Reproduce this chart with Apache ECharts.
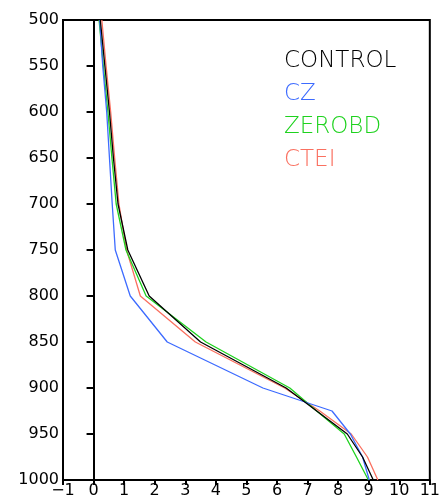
<!DOCTYPE html>
<html>
<head>
<meta charset="utf-8">
<script src="https://cdn.jsdelivr.net/npm/echarts@6/dist/echarts.min.js"></script>
<style>
  html, body { margin: 0; padding: 0; background: #fff; }
  #main { width: 443px; height: 504px; }
</style>
</head>
<body>
<div id="main"></div>
<script>
// pressure levels (hPa) and profiles for each run
var levels = [500, 550, 600, 650, 700, 750, 800, 850, 900, 925, 950, 975, 1000];
var control = [0.22, 0.37, 0.52, 0.65, 0.80, 1.12, 1.82, 3.50, 6.30, 7.30, 8.30, 8.80, 9.15];
var cz      = [0.20, 0.30, 0.43, 0.52, 0.61, 0.71, 1.20, 2.41, 5.54, 7.80, 8.40, 8.80, 9.02];
var zerobd  = [0.18, 0.32, 0.47, 0.60, 0.74, 1.06, 1.72, 3.68, 6.42, 7.30, 8.20, 8.60, 8.99];
var ctei    = [0.27, 0.41, 0.56, 0.69, 0.83, 1.08, 1.53, 3.33, 6.25, 7.40, 8.43, 8.96, 9.30];

var names = ['CONTROL', 'CZ', 'ZEROBD', 'CTEI'];
var colors = ['#000000', '#3d6bff', '#1ed21e', '#fa7060'];
var profiles = [control, cz, zerobd, ctei];

function pairs(vals) {
    return vals.map(function (v, i) { return [v, levels[i]]; });
}

var myChart = echarts.init(document.getElementById('main'));

var font = '"DejaVu Sans", sans-serif';

var option = {
    animation: false,
    grid: {
        left: 63, right: 9, top: 20, bottom: 24,
        show: true, borderColor: '#000', borderWidth: 2
    },
    xAxis: {
        type: 'value',
        min: -1, max: 11, interval: 1,
        axisLine: { lineStyle: { color: '#000', width: 2 } },
        axisTick: { length: 5, lineStyle: { color: '#000', width: 2 } },
        axisLabel: {
            color: '#000', fontSize: 16, fontFamily: font, margin: 3,
            formatter: function (v) { return String(v).replace('-', '\u2212'); }
        },
        splitLine: { show: false }
    },
    yAxis: {
        type: 'value',
        inverse: true,
        min: 500, max: 1000, interval: 50,
        axisLine: { lineStyle: { color: '#000', width: 2 } },
        axisTick: { length: 7, lineStyle: { color: '#000', width: 2 } },
        axisLabel: {
            color: '#000', fontSize: 16, fontFamily: font, margin: 4,
            formatter: function (v) { return String(v); }
        },
        splitLine: { show: false }
    },
    series: profiles.map(function (p, i) {
        return {
            name: names[i],
            type: 'line',
            data: pairs(p),
            showSymbol: false,
            lineStyle: { color: colors[i], width: 1.3 },
            z: 10 - i
        };
    }),
    graphic: names.map(function (n, i) {
        return {
            type: 'text',
            left: 284,
            top: 50 + i * 33,
            style: {
                text: n,
                fill: colors[i],
                font: '200 23px ' + font
            }
        };
    })
};

myChart.setOption(option);
</script>
</body>
</html>
